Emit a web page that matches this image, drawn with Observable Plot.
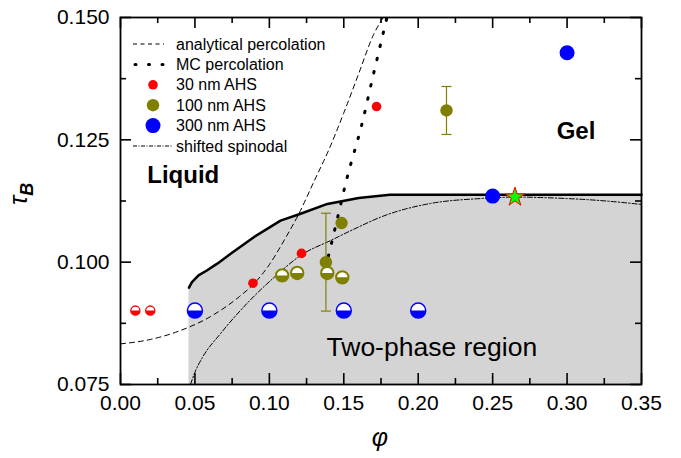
<!DOCTYPE html>
<html><head><meta charset="utf-8">
<script src="https://cdn.jsdelivr.net/npm/d3@7"></script>
<script src="https://cdn.jsdelivr.net/npm/@observablehq/plot@0.6"></script>
<style>
body{margin:0;background:#fff;}
#chart{position:relative;width:681px;height:458px;}
</style></head><body><div id="chart"></div>
<script>
// ---- data ----
const xTicks = [0, 0.05, 0.10, 0.15, 0.20, 0.25, 0.30, 0.35];
const xMinor = [0.025, 0.075, 0.125, 0.175, 0.225, 0.275, 0.325];
const yTicks = [0.075, 0.100, 0.125, 0.150];
const yMinor = [0.0875, 0.1125, 0.1375];

// boundary of two-phase region (solid line)
const boundaryPhi = [0.046, 0.048, 0.0524, 0.058, 0.065, 0.074, 0.09, 0.1075, 0.121, 0.139, 0.16, 0.181, 0.35];
const boundaryTau = [0.0948, 0.0959, 0.0973, 0.0983, 0.0997, 0.1017, 0.1052, 0.1085, 0.1099, 0.1119, 0.1131, 0.1138, 0.1138];
// analytical percolation (dashed)
const analyticPhi = [0, 0.02, 0.04, 0.06, 0.08, 0.09, 0.10, 0.11, 0.12, 0.13, 0.14, 0.15, 0.16, 0.17, 0.1765];
const analyticTau = [0.0833, 0.0842, 0.0860, 0.0888, 0.0930, 0.0957, 0.0995, 0.1045, 0.1100, 0.1165, 0.1230, 0.1305, 0.1385, 0.1465, 0.150];
// MC percolation (dotted)
const mcPhi = [0.1375, 0.145, 0.152, 0.162, 0.170, 0.179];
const mcTau = [0.0985, 0.108, 0.117, 0.128, 0.1385, 0.150];
// shifted spinodal (dash-dot)
const spinPhi = [0.047, 0.050, 0.055, 0.0672, 0.0851, 0.1036, 0.1216, 0.141, 0.16, 0.1747, 0.2083, 0.2418, 0.265, 0.30, 0.322, 0.35];
const spinTau = [0.075, 0.0775, 0.0805, 0.0854, 0.0916, 0.097, 0.1015, 0.1044, 0.1072, 0.1092, 0.112, 0.113, 0.1133, 0.113, 0.1126, 0.1118];

// 30 nm AHS
const red30FullPhi = [0.089, 0.1216, 0.172];
const red30FullTau = [0.0957, 0.1018, 0.1318];
const red30HalfPhi = [0.01, 0.02];
const red30HalfTau = [0.0901, 0.0901];
// 100 nm AHS
const olive100FullPhi = [0.138, 0.1485, 0.219];
const olive100FullTau = [0.1000, 0.1080, 0.1310];
const olive100ErrLo = [0.0900, null, 0.1261];
const olive100ErrHi = [0.1100, null, 0.1359];
const olive100HalfPhi = [0.1086, 0.1187, 0.1389, 0.149];
const olive100HalfTau = [0.0973, 0.0978, 0.0978, 0.0969];
// 300 nm AHS
const blue300FullPhi = [0.25, 0.30];
const blue300FullTau = [0.1135, 0.1428];
const blue300HalfPhi = [0.05, 0.10, 0.15, 0.20];
const blue300HalfTau = [0.0901, 0.0901, 0.0901, 0.0901];
// star
const starPhi = [0.265];
const starTau = [0.1133];

// region labels
const boldText = ["Liquid", "Gel"];
const boldPhi = [0.018, 0.293];
const boldTau = [0.11765, 0.1268];
const plainText = ["Two-phase region"];
const plainPhi = [0.1384];
const plainTau = [0.0826];

const legendLabels = ["analytical percolation", "MC percolation", "30 nm AHS", "100 nm AHS", "300 nm AHS", "shifted spinodal"];

// ---- build tables ----
const zip = (a, b) => a.map((v, i) => ({phi: v, tau: b[i]}));
const boundary = zip(boundaryPhi, boundaryTau);
const analytic = zip(analyticPhi, analyticTau);
const mc = zip(mcPhi, mcTau);
const spin = zip(spinPhi, spinTau);
const red30Full = zip(red30FullPhi, red30FullTau);
const red30Half = zip(red30HalfPhi, red30HalfTau);
const olive100Full = olive100FullPhi.map((p, i) => ({phi: p, tau: olive100FullTau[i], lo: olive100ErrLo[i], hi: olive100ErrHi[i]}));
const oliveErr = olive100Full.filter(d => d.lo != null);
const olive100Half = zip(olive100HalfPhi, olive100HalfTau);
const blue300Full = zip(blue300FullPhi, blue300FullTau);
const blue300Half = zip(blue300HalfPhi, blue300HalfTau);
const star = zip(starPhi, starTau);
const boldLabels = boldText.map((t, i) => ({text: t, phi: boldPhi[i], tau: boldTau[i]}));
const plainLabels = plainText.map((t, i) => ({text: t, phi: plainPhi[i], tau: plainTau[i]}));

const RED = "#ff0000", OLIVE = "#808000", BLUE = "#0000ff";
const halfBottom = {draw(ctx, size) { const r = Math.sqrt(size / Math.PI); ctx.moveTo(-r, 0); ctx.arc(0, 0, r, Math.PI, 0, true); ctx.closePath(); }};
const capSym = {draw(ctx, size) { const r = Math.sqrt(size / Math.PI); ctx.moveTo(-r, 0); ctx.lineTo(r, 0); }};

const halfDots = (data, color, r, sw) => [
  Plot.dot(data, {x: "phi", y: "tau", r, fill: "white", stroke: color, strokeWidth: sw}),
  Plot.dot(data, {x: "phi", y: "tau", r, symbol: halfBottom, fill: color, stroke: "none"})
];

const W = 681, H = 458, ML = 120, MR = 40, MT = 17, MB = 74;
const FW = W - ML - MR, FH = H - MT - MB;
const MAJ = 11, MIN = 6;
const tickStyle = {stroke: "#000", strokeWidth: 1.6};
const xTickMarks = (data, len) => [
  Plot.tickX(data, {x: d => d, insetTop: FH - len, ...tickStyle}),
  Plot.tickX(data, {x: d => d, insetBottom: FH - len, ...tickStyle})
];
const yTickMarks = (data, len) => [
  Plot.tickY(data, {y: d => d, insetRight: FW - len, ...tickStyle}),
  Plot.tickY(data, {y: d => d, insetLeft: FW - len, ...tickStyle})
];

const yMin = yTicks[0];
const plot = Plot.plot({
  width: W, height: H,
  marginLeft: ML, marginRight: MR, marginTop: MT, marginBottom: MB,
  x: {domain: [0, 0.35]},
  y: {domain: [0.075, 0.150]},
  style: {fontFamily: "'Liberation Sans', Arial, sans-serif", fontSize: "21px", color: "#000", background: "#fff", overflow: "visible"},
  marks: [
    Plot.areaY(boundary, {x: "phi", y1: () => yMin, y2: "tau", fill: "#d4d4d4"}),
    Plot.line(boundary, {x: "phi", y: "tau", stroke: "#000", strokeWidth: 2.5}),
    Plot.line(spin, {x: "phi", y: "tau", stroke: "#000", strokeWidth: 1, strokeDasharray: "5,2,1.5,2", curve: "monotone-x"}),
    Plot.line(analytic, {x: "phi", y: "tau", stroke: "#000", strokeWidth: 1, strokeDasharray: "5,4", curve: "monotone-x"}),
    Plot.line(mc, {x: "phi", y: "tau", stroke: "#000", strokeWidth: 3, strokeDasharray: "1.5,12", strokeLinecap: "round", curve: "monotone-x"}),
    Plot.ruleX(oliveErr, {x: "phi", y1: "lo", y2: "hi", stroke: OLIVE, strokeWidth: 1.2}),
    Plot.dot(oliveErr, {x: "phi", y: "lo", r: 5, symbol: capSym, stroke: OLIVE, strokeWidth: 1.2}),
    Plot.dot(oliveErr, {x: "phi", y: "hi", r: 5, symbol: capSym, stroke: OLIVE, strokeWidth: 1.2}),
    ...halfDots(red30Half, RED, 4.6, 1.3),
    ...halfDots(olive100Half, OLIVE, 6.2, 2),
    ...halfDots(blue300Half, BLUE, 7.5, 1.5),
    Plot.dot(red30Full, {x: "phi", y: "tau", r: 4.8, fill: RED}),
    Plot.dot(olive100Full, {x: "phi", y: "tau", r: 6.2, fill: OLIVE}),
    Plot.dot(blue300Full, {x: "phi", y: "tau", r: 7.5, fill: BLUE}),
    Plot.dot(star, {x: "phi", y: "tau", r: 6, symbol: "star", fill: "#00ff00", stroke: RED, strokeWidth: 1}),
    Plot.text(boldLabels, {x: "phi", y: "tau", text: "text", textAnchor: "start", fontWeight: "bold", fontSize: 24, fill: "#000"}),
    Plot.text(plainLabels, {x: "phi", y: "tau", text: "text", textAnchor: "start", fontSize: 26.5, fill: "#000"}),
    Plot.frame({stroke: "#000", strokeWidth: 1.8}),
    // inward ticks on all four sides
    ...xTickMarks(xTicks, MAJ),
    ...xTickMarks(xMinor, MIN),
    ...yTickMarks(yTicks, MAJ),
    ...yTickMarks(yMinor, MIN),
    Plot.axisX(xTicks, {anchor: "bottom", tickSize: 0, tickPadding: 11, tickFormat: d3.format(".2f"), label: null, fontSize: 21}),
    Plot.axisY(yTicks, {anchor: "left", tickSize: 0, tickPadding: 11, tickFormat: d3.format(".3f"), label: null, fontSize: 21})
  ]
});
document.getElementById("chart").appendChild(plot);

// axis titles and legend
const svg = d3.select(plot);
const ff = "'Liberation Sans', Arial, sans-serif";
svg.append("text").attr("x", 380).attr("y", 446).attr("text-anchor", "middle")
  .attr("font-family", ff).attr("font-size", 25).attr("font-style", "italic").text("φ");
const yl = svg.append("text").attr("transform", "translate(27,205) rotate(-90)").attr("text-anchor", "start")
  .attr("font-family", ff).attr("font-size", 25).attr("font-style", "italic");
yl.append("tspan").text("τ");
yl.append("tspan").attr("dy", 6).attr("font-size", 18).attr("font-weight", "bold").text("B");

const lg = svg.append("g").attr("font-family", ff).attr("font-size", 16).attr("text-anchor", "start");
const ly = legendLabels.map((_, i) => 44 + i * 20.4);
lg.selectAll("text.lbl").data(legendLabels).join("text").attr("class", "lbl")
  .attr("x", 176).attr("y", (d, i) => ly[i]).attr("dy", "0.35em").attr("fill", "#000").text(d => d);
lg.append("line").attr("x1", 133).attr("x2", 164).attr("y1", ly[0]).attr("y2", ly[0])
  .attr("stroke", "#000").attr("stroke-dasharray", "4,3.5");
lg.append("line").attr("x1", 135).attr("x2", 164).attr("y1", ly[1]).attr("y2", ly[1])
  .attr("stroke", "#000").attr("stroke-width", 3).attr("stroke-linecap", "round").attr("stroke-dasharray", "1,12.5");
lg.append("circle").attr("cx", 153).attr("cy", ly[2]).attr("r", 4.8).attr("fill", RED);
lg.append("circle").attr("cx", 153).attr("cy", ly[3]).attr("r", 6.2).attr("fill", OLIVE);
lg.append("circle").attr("cx", 153).attr("cy", ly[4]).attr("r", 7.5).attr("fill", BLUE);
lg.append("line").attr("x1", 133).attr("x2", 172).attr("y1", ly[5]).attr("y2", ly[5])
  .attr("stroke", "#000").attr("stroke-dasharray", "4,1.5,1,1.5");
</script></body></html>
